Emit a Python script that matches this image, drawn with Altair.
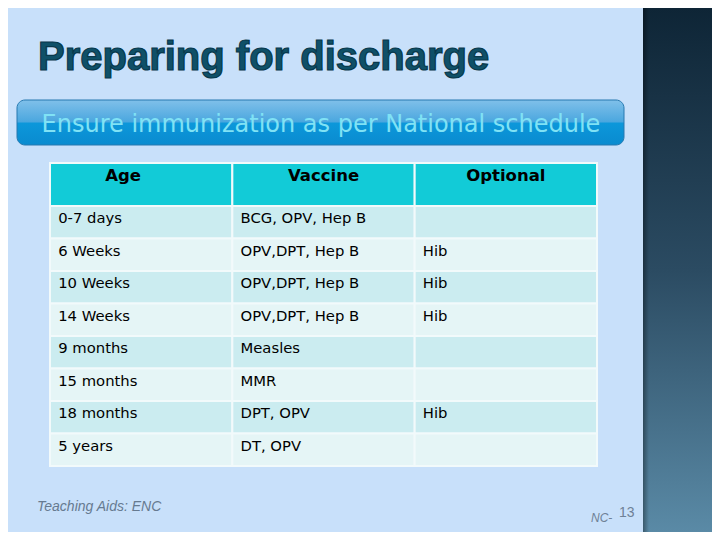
import altair as alt
import pandas as pd

# ---- data ----
headers = ["Age", "Vaccine", "Optional"]
ages = ["0-7 days", "6 Weeks", "10 Weeks", "14 Weeks", "9 months",
        "15 months", "18 months", "5 years"]
vaccines = ["BCG, OPV, Hep B", "OPV,DPT, Hep B", "OPV,DPT, Hep B",
            "OPV,DPT, Hep B", "Measles", "MMR", "DPT, OPV", "DT, OPV"]
optional = ["", "Hib", "Hib", "Hib", "", "", "Hib", ""]

title_text = "Preparing for discharge"
banner_text = "Ensure immunization as per National schedule"
footer_text = "Teaching Aids: ENC"
page_prefix = "NC-"
page_number = "13"

# ---- tables for the library ----
rows = []
for i, age in enumerate(ages):
    shade = "odd" if i % 2 == 0 else "even"
    for col, val in zip(headers, [age, vaccines[i], optional[i]]):
        rows.append({"row": age, "col": col, "text": val, "shade": shade})
cells = pd.DataFrame(rows)
head = pd.DataFrame({"col": headers})

W, H = 704, 524
xscale = alt.Scale(domain=headers, range=[42, 589], paddingInner=0, paddingOuter=0)
yscale = alt.Scale(domain=ages, range=[198, 458], paddingInner=0, paddingOuter=0)

one = pd.DataFrame({"a": [0]})

panel = alt.Chart(one).mark_rect(
    fill=alt.LinearGradient(gradient="linear", x1=0, x2=0, y1=0, y2=1,
                            stops=[alt.GradientStop(color="#0E2536", offset=0),
                                   alt.GradientStop(color="#2B4B62", offset=0.5),
                                   alt.GradientStop(color="#5A8AA6", offset=1)])
).encode(x=alt.value(635), x2=alt.value(W), y=alt.value(0), y2=alt.value(H))

panel_edge = alt.Chart(one).mark_rect(
    fill=alt.LinearGradient(gradient="linear", x1=0, x2=1, y1=0, y2=0,
                            stops=[alt.GradientStop(color="rgba(0,0,0,0.35)", offset=0),
                                   alt.GradientStop(color="rgba(0,0,0,0)", offset=1)])
).encode(x=alt.value(635), x2=alt.value(641), y=alt.value(0), y2=alt.value(H))

title = alt.Chart(one).mark_text(
    text=title_text, font="Liberation Sans", fontWeight="bold",
    fontSize=40, align="left", baseline="alphabetic",
    fill="#0F5068", stroke="#08384B", strokeWidth=1.2
).encode(x=alt.value(30), y=alt.value(62))

banner = alt.Chart(one).mark_rect(
    cornerRadius=8, stroke="#2679B0", strokeWidth=1,
    fill=alt.LinearGradient(gradient="linear", x1=0, x2=0, y1=0, y2=1,
                            stops=[alt.GradientStop(color="#80C0EA", offset=0),
                                   alt.GradientStop(color="#4BA7DF", offset=0.48),
                                   alt.GradientStop(color="#0C97DA", offset=0.52),
                                   alt.GradientStop(color="#0A8BCF", offset=1)])
).encode(x=alt.value(9), x2=alt.value(616), y=alt.value(92), y2=alt.value(137))

banner_label = alt.Chart(one).mark_text(
    text=banner_text, font="DejaVu Sans", fontSize=24,
    align="center", baseline="alphabetic", fill="#80E2F5"
).encode(x=alt.value(313), y=alt.value(124))

head_rect = alt.Chart(head).mark_rect(
    fill="#12CBD7", stroke="#F2FAFB", strokeWidth=2
).encode(x=alt.X("col:N", scale=xscale, axis=None),
         y=alt.value(155), y2=alt.value(198))

head_text_age = alt.Chart(head).transform_filter(
    alt.datum.col == "Age"
).mark_text(
    font="DejaVu Sans", fontWeight="bold", fontSize=16.5, fill="#000000",
    align="center", baseline="middle", dx=-18
).encode(x=alt.X("col:N", scale=xscale, axis=None),
         y=alt.value(168), text="col:N")

head_text = alt.Chart(head).transform_filter(
    alt.datum.col != "Age"
).mark_text(
    font="DejaVu Sans", fontWeight="bold", fontSize=16.5, fill="#000000",
    align="center", baseline="middle"
).encode(x=alt.X("col:N", scale=xscale, axis=None),
         y=alt.value(168), text="col:N")

cell_rect = alt.Chart(cells).mark_rect(
    stroke="#F2FAFB", strokeWidth=2
).encode(x=alt.X("col:N", scale=xscale, axis=None),
         y=alt.Y("row:N", scale=yscale, axis=None),
         fill=alt.Fill("shade:N", legend=None,
                       scale=alt.Scale(domain=["odd", "even"],
                                       range=["#CBECF0", "#E5F5F6"])))

cell_text = alt.Chart(cells).mark_text(
    font="DejaVu Sans", fontSize=14.8, fill="#000000",
    align="left", baseline="middle", dx=-83, dy=-3
).encode(x=alt.X("col:N", scale=xscale, axis=None),
         y=alt.Y("row:N", scale=yscale, axis=None),
         text="text:N")

footer = alt.Chart(one).mark_text(
    text=footer_text, font="Liberation Sans", fontStyle="italic", fontSize=14,
    align="left", baseline="alphabetic", fill="#667A90"
).encode(x=alt.value(29), y=alt.value(503))

pg1 = alt.Chart(one).mark_text(
    text=page_prefix, font="Liberation Sans", fontStyle="italic", fontSize=12,
    align="left", baseline="alphabetic", fill="#6F8196"
).encode(x=alt.value(583), y=alt.value(514))

pg2 = alt.Chart(one).mark_text(
    text=page_number, font="Liberation Sans", fontSize=14,
    align="left", baseline="alphabetic", fill="#6F8196"
).encode(x=alt.value(611), y=alt.value(509))

chart = alt.layer(
    panel, panel_edge, title, banner, banner_label,
    head_rect, cell_rect, head_text_age, head_text, cell_text, footer, pg1, pg2
).properties(
    width=W, height=H, padding=0, autosize=alt.AutoSizeParams(type="none"),
    background="#C8E0FA"
).configure_view(stroke=None)

chart.save("out.html", embed_options={"renderer": "svg", "actions": False})
